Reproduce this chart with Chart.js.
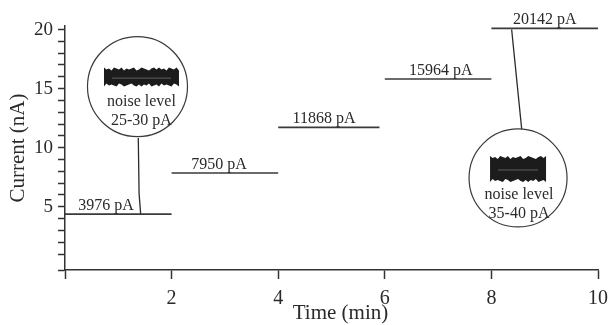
<!DOCTYPE html>
<html>
<head>
<meta charset="utf-8">
<script src="https://cdn.jsdelivr.net/npm/chart.js@4.4.1/dist/chart.umd.min.js"></script>
<style>
html, body { margin: 0; padding: 0; background: #fff; }
#wrap { width: 610px; height: 325px; }
</style>
</head>
<body>
<div id="wrap"><canvas id="currentChart"></canvas></div>
<script>
const SERIF = '"Liberation Serif", "Times New Roman", serif';
const INK = '#2a2a2a';

/// Current steps (time in min, current in nA)
const stepStart = [0, 2, 4, 6, 8];
const stepEnd = [2, 4, 5.9, 8, 10];
const stepCurrent = [4.38, 7.86, 11.72, 15.82, 20.1];
const stepLabels = ['3976 pA', '7950 pA', '11868 pA', '15964 pA', '20142 pA'];
const stepLabelTime = [0.77, 2.89, 4.86, 7.05, 9.0];

/// Axis ticks
const xTicks = [0, 2, 4, 6, 8, 10];
const yTicks = [-0.35, 1, 2, 3, 4, 5, 6, 7, 8, 9, 10, 11, 12, 13, 14, 15, 16, 17, 18, 19, 20];
const yLabelled = [5, 10, 15, 20];
const xTitle = 'Time (min)';

/// Noise level call-outs
const calloutTime = [1.36, 8.5];
const calloutCurrent = [15.17, 7.44];
const calloutText = [['noise level', '25-30 pA'], ['noise level', '35-40 pA']];
const leaderTime = [[1.375, 1.39, 1.42], [8.38, 8.57]];
const leaderCurrent = [[10.82, 6.1, 4.38], [20.0, 11.5]];

const datasets = [];
stepCurrent.forEach((c, i) => {
    datasets.push({
        data: [{ x: stepStart[i], y: c }, { x: stepEnd[i], y: c }],
        borderColor: '#3a3a3a',
        borderWidth: 1.6
    });
});
leaderTime.forEach((ts, i) => {
    datasets.push({
        data: ts.map((t, k) => ({ x: t, y: leaderCurrent[i][k] })),
        borderColor: '#2a2a2a',
        borderWidth: 1.3
    });
});

// jagged edge for the noise trace
const jag = [0, 2, 1, 3, 0, 1, 2, 0, 3, 1, 2, 1, 0, 3, 2, 0, 1, 2, 3, 1, 0, 2];

const calloutPlugin = {
    id: 'callouts',
    afterDatasetsDraw(chart, args, opts) {
        const { ctx, chartArea, scales: { x, y } } = chart;
        ctx.save();

        // step labels
        ctx.fillStyle = INK;
        ctx.font = '16px ' + SERIF;
        ctx.textAlign = 'center';
        ctx.textBaseline = 'alphabetic';
        stepLabels.forEach((txt, i) => {
            ctx.fillText(txt, x.getPixelForValue(stepLabelTime[i]), y.getPixelForValue(stepCurrent[i]) - 4);
        });

        calloutTime.forEach((t, i) => {
            const s = opts.styles[i];
            const cx = x.getPixelForValue(t);
            const cy = y.getPixelForValue(calloutCurrent[i]);

            ctx.beginPath();
            ctx.arc(cx, cy, s.radius, 0, Math.PI * 2);
            ctx.fillStyle = '#fff';
            ctx.fill();
            ctx.lineWidth = 1.2;
            ctx.strokeStyle = '#3a3a3a';
            ctx.stroke();

            // noise trace block
            const w = s.block[2], h = s.block[3];
            const bx = cx + s.block[0] - w / 2;
            const by = cy + s.block[1] - h / 2;
            const n = Math.round(w / 2.5);
            ctx.beginPath();
            for (let k = 0; k <= n; k++) {
                ctx.lineTo(bx + k * w / n, by + jag[k % jag.length]);
            }
            for (let k = n; k >= 0; k--) {
                ctx.lineTo(bx + k * w / n, by + h - jag[(k + 7) % jag.length]);
            }
            ctx.closePath();
            ctx.fillStyle = '#1c1c1c';
            ctx.fill();
            ctx.beginPath();
            ctx.moveTo(bx + 8, by + h / 2 + 1);
            ctx.lineTo(bx + w - 8, by + h / 2 + 1);
            ctx.strokeStyle = 'rgba(150,150,150,0.8)';
            ctx.lineWidth = 0.7;
            ctx.stroke();

            // text
            ctx.fillStyle = INK;
            ctx.font = s.font + 'px ' + SERIF;
            ctx.textAlign = 'center';
            ctx.fillText(calloutText[i][0], cx + s.text[0], cy + s.text[1]);
            ctx.fillText(calloutText[i][1], cx + s.text[0], cy + s.text[2]);
        });

        // x axis title, sits a little right of centre in the original
        ctx.fillStyle = INK;
        ctx.font = '21px ' + SERIF;
        ctx.textAlign = 'center';
        ctx.textBaseline = 'middle';
        ctx.fillText(xTitle, (chartArea.left + chartArea.right) / 2 + 9, chart.height - 12);
        ctx.restore();
    }
};

const currentChart = new Chart('currentChart', {
    type: 'line',
    data: { datasets: datasets },
    plugins: [calloutPlugin],
    options: {
        responsive: true,
        maintainAspectRatio: false,
        animation: false,
        elements: { point: { radius: 0 }, line: { tension: 0 } },
        layout: { padding: { top: 26, right: 12, left: 0, bottom: 0 } },
        plugins: {
            legend: { display: false },
            tooltip: { enabled: false },
            callouts: {
                styles: [
                    { radius: 50, block: [4, -9.5, 75, 19], font: 16, text: [4, 19, 38] },
                    { radius: 49, block: [0, -9, 56, 26], font: 16, text: [1, 21, 40] }
                ]
            }
        },
        scales: {
            x: {
                type: 'linear',
                min: 0,
                max: 10,
                afterBuildTicks: s => { s.ticks = xTicks.map(v => ({ value: v })); },
                afterFit: s => { s.height = 55; s.paddingLeft = 0; s.paddingRight = 0; },
                ticks: {
                    autoSkip: false,
                    maxRotation: 0,
                    padding: 8,
                    color: INK,
                    font: { family: SERIF, size: 20 },
                    callback: v => (v === 0 ? '' : v)
                },
                grid: { drawOnChartArea: false, drawTicks: true, tickLength: 9, tickColor: '#333', tickWidth: 1.5 },
                border: { color: '#333', width: 1.5 }
            },
            y: {
                min: -0.35,
                max: 20.3,
                afterBuildTicks: s => { s.ticks = yTicks.map(v => ({ value: v })); },
                afterFit: s => { s.width = 65; },
                ticks: {
                    autoSkip: false,
                    padding: 5,
                    color: INK,
                    font: { family: SERIF, size: 19 },
                    callback: v => (yLabelled.includes(v) ? v : '')
                },
                grid: { drawOnChartArea: false, drawTicks: true, tickLength: 7, tickColor: '#333', tickWidth: 1.5 },
                border: { color: '#333', width: 1.5 },
                title: { display: true, text: 'Current (nA)', color: INK, font: { family: SERIF, size: 21 }, padding: 6 }
            }
        }
    }
});
</script>
</body>
</html>
